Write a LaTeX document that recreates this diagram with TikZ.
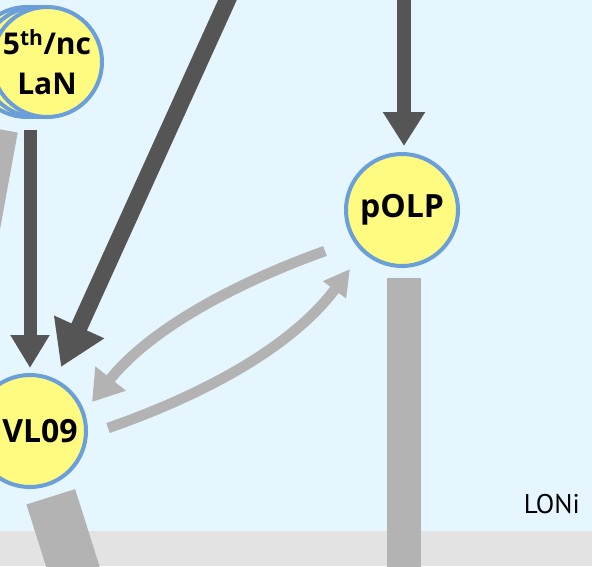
\documentclass[tikz,border=0pt]{standalone}
\usepackage{fontspec}
\setmainfont{PT Sans}
\newfontfamily\cellfont{Open Sans}
\usepackage{xcolor}
\usetikzlibrary{arrows.meta}
\definecolor{skyback}{HTML}{E5F6FF}
\definecolor{floorgray}{HTML}{E3E3E3}
\definecolor{cellfill}{HTML}{FFFA80}
\definecolor{cellrim}{HTML}{6A9FDA}
\definecolor{darkpath}{HTML}{555555}
\definecolor{lightpath}{HTML}{B3B3B3}

\begin{document}
\begin{tikzpicture}[x=1pt, y=-1pt,
  cell/.style={circle, fill=cellfill, draw=cellrim, line width=4pt, inner sep=0pt,
               font=\cellfont\fontsize{32}{41}\selectfont\bfseries, align=center},
  darkline/.style={draw=darkpath},
  lightline/.style={draw=lightpath}]
\useasboundingbox (0,0) rectangle (592,566);
\clip (0,0) rectangle (592,566);
\fill [skyback] (0,0) rectangle (592,566);
\fill [floorgray] (0,531) rectangle (592,566);
\node [cell, minimum size=110pt] (LaNc) at (27,62) {};
\node [cell, minimum size=110pt] (LaNb) at (37,62) {};
\node [cell, minimum size=110pt, font=\cellfont\fontsize{30}{40}\selectfont\bfseries] (LaN) at (47,62) {5\textsuperscript{th}/nc\\LaN};
\node [cell, minimum size=112pt] (VL09) at (30,431) {\hspace{20pt}VL09};
\node [cell, minimum size=112pt] (pOLP) at (402,210) {pOLP};
\node [font=\fontsize{27}{32}\selectfont, anchor=base east, inner sep=0pt] (loni) at (580,513) {LONi};
\coordinate (top1) at (236.5,-20);
\coordinate (top2) at (404,-5);
\coordinate (bot1) at (79,586);
\coordinate (bot2) at (404,580);
\draw [lightline, line width=40pt] ([shift={(-49,67)}]LaN.center) -- ++(-27,148);
\draw [lightline, line width=34pt, shorten <=10pt] (bot2 |- pOLP.south) -- (bot2);
\draw [lightline, line width=51pt, shorten <=69pt] (VL09.center) -- (bot1);
\draw [lightline, line width=10.5pt, -{Triangle[width=37pt,length=30pt]}]
  ([shift={(-77,41)}]pOLP.center) .. controls (236.5,282.6) and (150.3,328.7) .. ([shift={(62,-29)}]VL09.center);
\draw [lightline, line width=10.5pt, -{Triangle[width=27pt,length=26pt]}]
  ([shift={(78,-3)}]VL09.center) .. controls (201,395.7) and (291.1,348.1) .. ([shift={(-52,59)}]pOLP.center);
\draw [darkline, line width=13pt, shorten <=11pt, shorten >=5pt, -{Triangle[width=37pt,length=33pt]}]
  (LaN.south -| VL09.north) -- (VL09.north);
\draw [darkline, line width=17pt, -{Triangle[width=52pt,length=44pt]}]
  (top1) -- ([shift={(31,-64)}]VL09.center);
\draw [darkline, line width=14pt, shorten >=6pt, -{Triangle[width=40pt,length=34pt]}]
  (top2) -- (top2 |- pOLP.north);
\end{tikzpicture}
\end{document}
